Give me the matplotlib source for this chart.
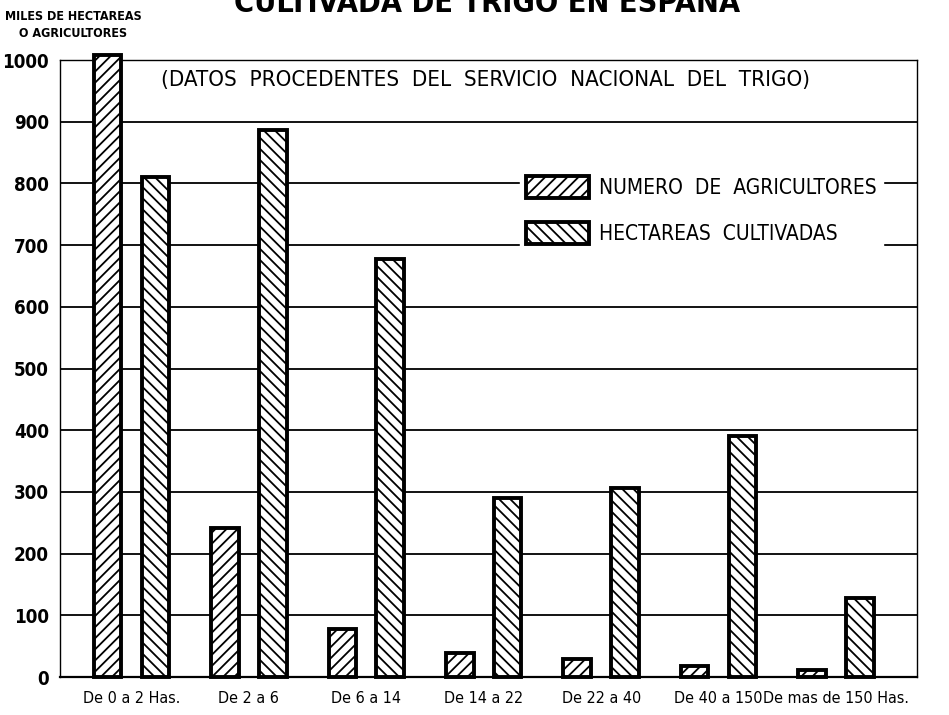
import numpy as np
import matplotlib
matplotlib.use("Agg")
import matplotlib.pyplot as plt

# values (thousands)
rangos = ["De 0 a 2 Has.", "De 2 a 6", "De 6 a 14", "De 14 a 22",
          "De 22 a 40", "De 40 a 150", "De mas de 150 Has."]
agricultores = [1008, 242, 78, 39, 29, 18, 12]
hectareas = [810, 887, 678, 290, 306, 391, 128]
yticks = [0, 100, 200, 300, 400, 500, 600, 700, 800, 900, 1000]

plt.rcParams["font.family"] = ["DejaVu Sans"]
plt.rcParams["font.stretch"] = "condensed"
plt.rcParams["hatch.linewidth"] = 1.3
plt.rcParams["hatch.color"] = "black"

fig = plt.figure(figsize=(9.49, 7.15), dpi=100)
ax = fig.add_axes([0.0632, 0.0531, 0.9031, 0.8629])

x = np.arange(len(rangos))
off, w = 0.204, 0.235
ax.bar(x - off, agricultores, w, color="white", edgecolor="black",
       linewidth=2.8, hatch="///", zorder=3, clip_on=False,
       label="NUMERO  DE  AGRICULTORES")
ax.bar(x + off, hectareas, w, color="white", edgecolor="black",
       linewidth=2.8, hatch="\\\\\\", zorder=3, clip_on=False,
       label="HECTAREAS  CULTIVADAS")

ax.set_xlim(-0.609, 6.69)
ax.set_ylim(0, 1000)
ax.set_yticks(yticks)
ax.set_yticklabels([str(v) for v in yticks], fontsize=13.5, fontweight="bold")
ax.set_xticks(x)
ax.set_xticklabels(rangos, fontsize=11.5)
ax.tick_params(length=0, pad=8)
ax.tick_params(axis="x", pad=10)
ax.grid(axis="y", color="black", linewidth=1.3, zorder=1)
for side in ["left", "right", "top"]:
    ax.spines[side].set_linewidth(1.0)
ax.spines["bottom"].set_linewidth(1.6)

ax.text(0.497, 0.968, "(DATOS  PROCEDENTES  DEL  SERVICIO  NACIONAL  DEL  TRIGO)",
        transform=ax.transAxes, ha="center", va="center", fontsize=16)

leg = ax.legend(loc="upper left", bbox_to_anchor=(0.537, 0.823), fontsize=15,
                handlelength=3.0, handleheight=1.25, handletextpad=0.5,
                labelspacing=1.15, borderpad=0.3, borderaxespad=0,
                fancybox=False, framealpha=1, edgecolor="white")
leg.set_zorder(4)

fig.text(0.077, 0.986, "MILES DE HECTAREAS", ha="center", va="top",
         fontsize=9, fontweight="bold")
fig.text(0.077, 0.962, "O AGRICULTORES", ha="center", va="top",
         fontsize=9, fontweight="bold")
fig.text(0.513, 1 - 12 / 715, "CULTIVADA DE TRIGO EN ESPAÑA", ha="center",
         va="baseline", fontsize=22, fontweight="bold")

fig.savefig("out.png", dpi=100)
